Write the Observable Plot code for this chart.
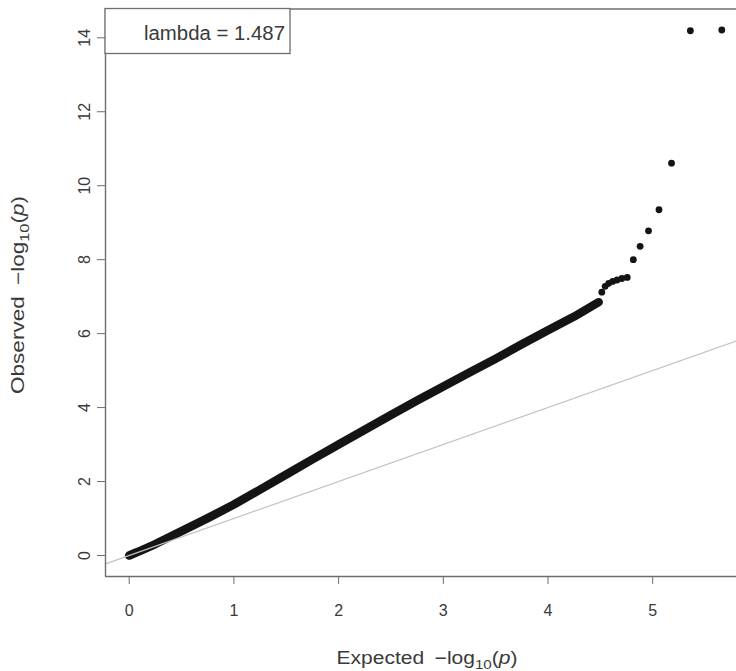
<!DOCTYPE html>
<html><head><meta charset="utf-8">
<script src="https://cdn.jsdelivr.net/npm/d3@7"></script>
<script src="https://cdn.jsdelivr.net/npm/@observablehq/plot@0.6"></script>
<style>
body{margin:0;background:#fff;overflow:hidden}
</style></head><body><div id="chart"></div>
<script>
// dense part of the QQ curve (expected vs observed -log10 p)
const bandExpected = [0, 0.05, 0.1, 0.25, 0.5, 0.75, 1, 1.25, 1.5, 1.75, 2, 2.25, 2.5, 2.75, 3, 3.25, 3.5, 3.75, 4, 4.25, 4.484];
const bandObserved = [0, 0.06, 0.12, 0.31, 0.66, 1.01, 1.38, 1.78, 2.19, 2.6, 3.0, 3.4, 3.8, 4.19, 4.57, 4.95, 5.32, 5.71, 6.09, 6.46, 6.85];
// top-ranked individual points
const tailExpected = [5.66, 5.36, 5.18, 5.06, 4.96, 4.88, 4.815, 4.757, 4.706, 4.66, 4.618, 4.58, 4.546, 4.514];
const tailObserved = [14.21, 14.19, 10.61, 9.35, 8.78, 8.36, 8.0, 7.52, 7.49, 7.45, 7.41, 7.36, 7.28, 7.12];
const xTicks = [0, 1, 2, 3, 4, 5];
const yTicks = [0, 2, 4, 6, 8, 10, 12, 14];
const lambdaValue = 1.487;

const band = bandExpected.map((x, i) => ({x, y: bandObserved[i]}));
const tail = tailExpected.map((x, i) => ({x, y: tailObserved[i]}));

// R-style 4% axis expansion
const [x0, x1] = d3.extent([...bandExpected, ...tailExpected]);
const [y0, y1] = d3.extent([...bandObserved, ...tailObserved]);
const xDomain = [x0 - 0.04 * (x1 - x0), x1 + 0.04 * (x1 - x0)];
const yDomain = [y0 - 0.04 * (y1 - y0), y1 + 0.04 * (y1 - y0)];

const FONT = "'Liberation Sans', Arial, Helvetica, sans-serif";
const BOX = "#6e6e6e";
const TXT = "#3a3a3a";

const plot = Plot.plot({
  width: 736,
  height: 671,
  marginLeft: 105,
  marginRight: 0,
  marginTop: 8.5,
  marginBottom: 95,
  style: {fontFamily: FONT, background: "#fff", overflow: "hidden"},
  x: {domain: xDomain, range: [105, 745]},
  y: {domain: yDomain},
  marks: [
    Plot.line(band, {x: "x", y: "y", stroke: "#141414", strokeWidth: 8.5, strokeLinecap: "round", strokeLinejoin: "round"}),
    Plot.dot(tail, {x: "x", y: "y", r: 3.4, fill: "#141414"}),
    Plot.line(xDomain, {x: d => d, y: d => d, stroke: "#c2c2c2", strokeWidth: 1.2}),
    Plot.ruleX([xDomain[0]], {stroke: BOX, strokeWidth: 1.4}),
    Plot.ruleY([yDomain[0], yDomain[1]], {stroke: BOX, strokeWidth: 1.4}),
    Plot.axisX({ticks: xTicks, tickSize: 8, tickPadding: 20, fontSize: 16, stroke: BOX, fill: TXT, label: null, tickFormat: d => String(d)}),
    Plot.axisY({ticks: yTicks, tickSize: 8, tickFormat: () => "", stroke: BOX, label: null}),
    Plot.text(yTicks, {y: d => d, text: d => String(d), frameAnchor: "left", dx: -21, rotate: -90, textAnchor: "middle", fontSize: 16, fill: TXT})
  ]
});

document.getElementById("chart").appendChild(plot);
const svg = d3.select(plot);

// legend box
const lg = svg.append("g");
lg.append("rect").attr("x", 105).attr("y", 8.5).attr("width", 185).attr("height", 45)
  .attr("fill", "#fff").attr("stroke", BOX).attr("stroke-width", 1.3);
lg.append("text").attr("x", 285).attr("y", 40).attr("text-anchor", "end")
  .attr("font-size", 20).attr("font-family", FONT).attr("fill", TXT)
  .attr("textLength", 141).attr("lengthAdjust", "spacingAndGlyphs")
  .text("lambda = " + lambdaValue);

// axis titles with subscript and italic p
function title(g, name, len) {
  const t = g.append("text").attr("text-anchor", "middle").attr("font-size", 18)
    .attr("font-family", FONT).attr("fill", TXT)
    .attr("textLength", len).attr("lengthAdjust", "spacingAndGlyphs");
  t.append("tspan").text(name + "\u2002\u2212log");
  t.append("tspan").attr("font-size", 13).attr("dy", 5).text("10");
  t.append("tspan").attr("dy", -5).text("(");
  t.append("tspan").attr("font-style", "italic").text("p");
  t.append("tspan").text(")");
  return t;
}
title(svg.append("g").attr("transform", "translate(427,664)"), "Expected", 181);
title(svg.append("g").attr("transform", "translate(24,295) rotate(-90)"), "Observed", 198);
</script></body></html>
